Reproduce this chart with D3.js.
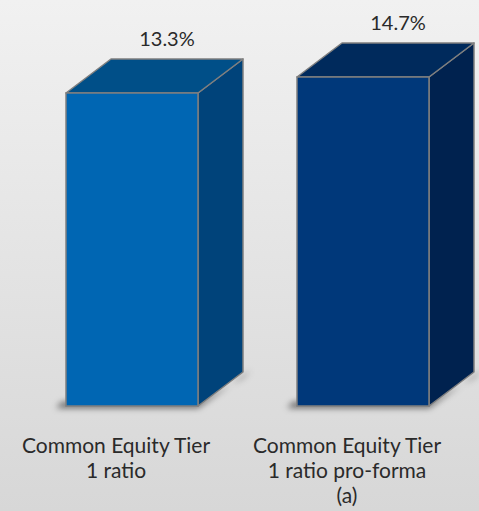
<!DOCTYPE html>
<html lang="en">
<head>
  <meta charset="UTF-8">
  <title>Common Equity Tier 1</title>
  <script src="https://d3js.org/d3.v7.min.js"></script>
  <style>
    body { margin: 0; background: #e6e6e6; }
    svg { display: block; }
    text { font-family: "Century Gothic", "URW Gothic", Lato, "DejaVu Sans", sans-serif; fill: #2a2a2a; }
  </style>
</head>
<body>
<svg id="chart" width="479" height="511"></svg>
<script>
  // chart data
  const categories = ["Common Equity Tier 1 ratio", "Common Equity Tier 1 ratio pro-forma (a)"];
  const labelLines = [["Common Equity Tier", "1 ratio"], ["Common Equity Tier", "1 ratio pro-forma", "(a)"]];
  const values = [13.3, 14.7];
  const frontColors = ["#0066b3", "#00387a"];
  const topColors = ["#004f88", "#002a5c"];
  const sideColors = ["#00437a", "#00224f"];

  const svg = d3.select("#chart");
  const W = +svg.attr("width"), H = +svg.attr("height");

  const defs = svg.append("defs");
  const bg = defs.append("linearGradient").attr("id", "bg").attr("x1", 0).attr("x2", 0).attr("y1", 0).attr("y2", 1);
  bg.append("stop").attr("offset", "0%").attr("stop-color", "#f1f1f1");
  bg.append("stop").attr("offset", "100%").attr("stop-color", "#d7d7d7");
  const blur = defs.append("filter").attr("id", "shadow").attr("x", "-20%").attr("y", "-20%").attr("width", "140%").attr("height", "140%");
  blur.append("feGaussianBlur").attr("stdDeviation", 3);

  svg.append("rect").attr("width", W).attr("height", H).attr("fill", "url(#bg)");

  const depthX = 45, depthY = 34;
  const baseY = 406;

  const x = d3.scaleBand().domain(categories).range([0, 495]).paddingInner(0.4286).paddingOuter(0.2857);
  // axis floor sits below zero (3D perspective of the original)
  const y = d3.scaleLinear().domain([-14.1, 14.7]).range([baseY, 77]);

  const bars = svg.selectAll("g.bar").data(categories).enter().append("g").attr("class", "bar");

  bars.each(function(c, i) {
    const g = d3.select(this);
    const x0 = x(c), x1 = x(c) + x.bandwidth();
    const yt = y(values[i]);

    // soft shadow on the floor
    g.append("path")
      .attr("d", `M${x0 - 10},${baseY + 2} L${x1},${baseY + 2} L${x1 + depthX + 8},${baseY - depthY - 2} L${x1 + depthX},${baseY - depthY + 6} L${x1},${baseY - 4} L${x0 - 4},${baseY - 4}Z`)
      .attr("fill", "rgba(0,0,0,0.55)")
      .attr("filter", "url(#shadow)");

    // side face
    g.append("path")
      .attr("d", `M${x1},${yt} L${x1 + depthX},${yt - depthY} L${x1 + depthX},${baseY - depthY} L${x1},${baseY}Z`)
      .attr("fill", sideColors[i]).attr("stroke", "#7f7f7f").attr("stroke-width", 1.5).attr("stroke-linejoin", "round");
    // top face
    g.append("path")
      .attr("d", `M${x0},${yt} L${x0 + depthX},${yt - depthY} L${x1 + depthX},${yt - depthY} L${x1},${yt}Z`)
      .attr("fill", topColors[i]).attr("stroke", "#7f7f7f").attr("stroke-width", 1.5).attr("stroke-linejoin", "round");
    // front face
    g.append("rect")
      .attr("x", x0).attr("y", yt).attr("width", x1 - x0).attr("height", baseY - yt)
      .attr("fill", frontColors[i]).attr("stroke", "#7f7f7f").attr("stroke-width", 1.5);

    // value label
    g.append("text")
      .attr("x", (x0 + x1) / 2 + 35).attr("y", yt - depthY - 13)
      .attr("text-anchor", "middle").attr("font-size", 20)
      .text(d3.format(".1f")(values[i]) + "%");

    // category label
    const t = g.append("text").attr("text-anchor", "middle").attr("font-size", 21);
    labelLines[i].forEach((line, k) => {
      t.append("tspan").attr("x", (x0 + x1) / 2 - 16).attr("y", 453 + k * 25).text(line);
    });
  });
</script>
</body>
</html>
